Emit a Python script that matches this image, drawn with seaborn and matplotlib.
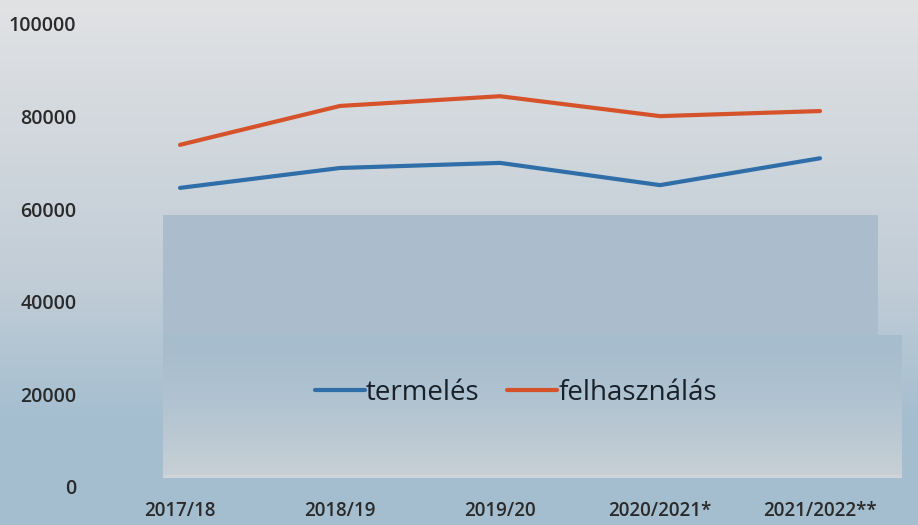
import numpy as np
import pandas as pd
import seaborn as sns
import matplotlib.pyplot as plt

# data
seasons = ["2017/18", "2018/19", "2019/20", "2020/2021*", "2021/2022**"]
termeles = [64600, 68900, 70000, 65200, 71000]
felhasznalas = [73900, 82300, 84400, 80100, 81200]
series_names = ["termelés", "felhasználás"]
y_ticks = [0, 20000, 40000, 60000, 80000, 100000]

df = pd.DataFrame({
    "season": seasons * 2,
    "value": termeles + felhasznalas,
    "series": [series_names[0]] * len(seasons) + [series_names[1]] * len(seasons),
})

sns.set_theme(style="white")
plt.rcParams["font.family"] = ["Open Sans", "DejaVu Sans"]

W, H = 918, 525
fig = plt.figure(figsize=(W / 100, H / 100), dpi=100)

# background: photographed-slide look, built as a pixel image
yy = np.linspace(0, 1, H)[:, None]
top = np.array([225, 226, 228]) / 255
mid = np.array([192, 204, 214]) / 255
bot = np.array([164, 190, 208]) / 255
t1 = np.clip(yy / 0.55, 0, 1)[..., None]
t2 = np.clip((yy - 0.55) / 0.25, 0, 1)[..., None]
base = top * (1 - t1) + mid * t1
base = base * (1 - t2) + bot * t2
bg = np.repeat(base, W, axis=1)
# darker inner panel
bg[215:335, 163:878] = np.array([171, 189, 205]) / 255
g = np.linspace(0, 1, 475 - 335)[:, None, None] ** 1.5
bg[335:475, 163:902] = (np.array([166, 189, 206]) / 255) * (1 - g) + (np.array([200, 208, 214]) / 255) * g
bg[475:478, 163:902] = np.array([206, 212, 217]) / 255

ax_bg = fig.add_axes([0, 0, 1, 1], zorder=-1)
ax_bg.imshow(bg, aspect="auto", extent=[0, W, H, 0])
ax_bg.axis("off")

ax = fig.add_axes([100 / W, 1 - 487 / H, 800 / W, 463 / H])
ax.patch.set_alpha(0)

sns.lineplot(data=df, x="season", y="value", hue="series", sort=False,
             palette={"termelés": "#2f6ea8", "felhasználás": "#d5522a"},
             linewidth=3, ax=ax)

ax.set_xlim(-0.5, len(seasons) - 0.5)
ax.set_ylim(0, 100000)
ax.set_yticks(y_ticks)
ax.set_yticklabels([str(v) for v in y_ticks])
ax.set_xlabel("")
ax.set_ylabel("")
for s in ax.spines.values():
    s.set_visible(False)
ax.tick_params(axis="y", length=0, pad=17, labelsize=14, labelcolor="#2a2a2a")
ax.tick_params(axis="x", length=0, pad=10, labelsize=13.5, labelcolor="#2a2a2a")
for lab in ax.get_xticklabels() + ax.get_yticklabels():
    lab.set_fontweight("semibold")

leg = ax.legend(loc="center", bbox_to_anchor=(0.52, 0.203), ncol=2, frameon=False,
                fontsize=20, handlelength=1.8, handletextpad=0.05, columnspacing=1.0)
for txt in leg.get_texts():
    txt.set_color("#18202a")

fig.savefig("out.png", dpi=100)
